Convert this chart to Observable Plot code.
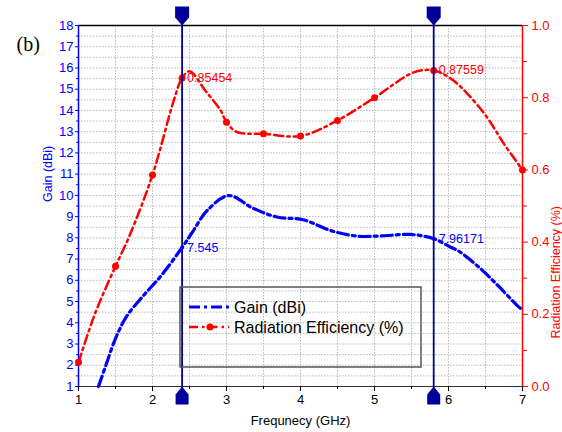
<!DOCTYPE html>
<html><head><meta charset="utf-8">
<script src="https://cdn.jsdelivr.net/npm/d3@7"></script>
<script src="https://cdn.jsdelivr.net/npm/@observablehq/plot@0.6"></script>
<style>
body{margin:0;background:#fff;}
#chart{position:relative;width:562px;height:432px;}
</style></head><body><div id="chart"></div>
<script>
// ---- data ----
const gainFreq = [1.27,1.37,1.5,1.65,1.87,2.12,2.4,2.54,2.74,3.03,3.35,3.68,4.04,4.41,4.77,5.13,5.49,5.8,6.03,6.14,6.42,6.68,6.93,7.0];
const gainDbi  = [1.0,2.0,3.26,4.3,5.25,6.23,7.545,8.27,9.29,9.99,9.41,8.98,8.85,8.34,8.08,8.10,8.16,7.96171,7.56,7.37,6.59,5.71,4.81,4.6];
const effFreq = [1,1.15,1.25,1.5,1.69,2,2.29,2.4,2.5,2.72,2.92,3,3.14,3.5,4,4.5,5,5.53,5.8,6.05,6.26,6.52,6.75,7];
const effVal  = [0.067,0.16,0.216,0.333,0.418,0.586,0.794,0.85454,0.873,0.818,0.765,0.732,0.705,0.70,0.694,0.737,0.80,0.87,0.87559,0.85,0.81,0.746,0.672,0.60];
const effMarkerFreq = [1,1.5,2,2.4,3,3.5,4,4.5,5,5.8,7];
const effMarkerVal  = [0.067,0.333,0.586,0.85454,0.732,0.70,0.694,0.737,0.80,0.87559,0.60];
const cursorFreq = [2.4, 5.8];
const gainCursorVal = [7.545, 7.96171];
const gainCursorText = ["7.545", "7.96171"];
const effCursorVal = [0.85454, 0.87559];
const effCursorText = ["0.85454", "0.87559"];
const freqTicks = [1,2,3,4,5,6,7];
const freqMinorTicks = [1.5,2.5,3.5,4.5,5.5,6.5];
const gainTicks = [1,2,3,4,5,6,7,8,9,10,11,12,13,14,15,16,17,18];
const gainMinorTicks = [1.5,2.5,3.5,4.5,5.5,6.5,7.5,8.5,9.5,10.5,11.5,12.5,13.5,14.5,15.5,16.5,17.5];
const effTicks = [0,0.2,0.4,0.6,0.8,1.0];
const effMinorTicks = [0.1,0.3,0.5,0.7,0.9];
const freqGrid = [1.5,2,2.5,3,3.5,4,4.5,5,5.5,6,6.5];
const legendLabels = ["Gain (dBi)", "Radiation Efficiency (%)"];
const xTitle = "Frequnecy (GHz)";
const yLeftTitle = "Gain (dBi)";
const yRightTitle = "Radiation Efficiency (%)";
const panelTag = "(b)";

const GMIN = 1, GMAX = 18;
const effToY = e => GMIN + (GMAX - GMIN) * e;
const yToEff = y => (y - GMIN) / (GMAX - GMIN);

const BLUE = "#0000ff", RED = "#ff0000", NAVY = "#00009c";
const FONT = "Liberation Sans, Arial, sans-serif";

const gainData = gainFreq.map((f, i) => ({f, g: gainDbi[i]}));
const effData = effFreq.map((f, i) => ({f, y: effToY(effVal[i])}));
const effMarkers = effMarkerFreq.map((f, i) => ({f, y: effToY(effMarkerVal[i])}));
const gainLbl = cursorFreq.map((f, i) => ({f, y: gainCursorVal[i], t: gainCursorText[i]}));
const effLbl = cursorFreq.map((f, i) => ({f, y: effToY(effCursorVal[i]), t: effCursorText[i]}));

const topSym = {draw(c){ c.moveTo(-7,-19); c.lineTo(7,-19); c.lineTo(7,-8); c.lineTo(0,0); c.lineTo(-7,-8); c.closePath(); }};
const botSym = {draw(c){ c.moveTo(0,0); c.lineTo(6.5,8); c.lineTo(6.5,18); c.lineTo(-6.5,18); c.lineTo(-6.5,8); c.closePath(); }};

const gridY = d3.range(1.5, 18, 0.5);

const plot = Plot.plot({
  width: 562, height: 432,
  marginLeft: 78, marginRight: 40, marginTop: 25, marginBottom: 46,
  style: {fontFamily: FONT, fontSize: "12px", background: "#fff", overflow: "visible"},
  x: {domain: [1, 7]},
  y: {domain: [GMIN, GMAX]},
  marks: [
    Plot.ruleX(freqGrid, {stroke: "#b8b8b8", strokeDasharray: "1.5,1.5"}),
    Plot.ruleY(gridY, {stroke: "#b8b8b8", strokeDasharray: "1.5,1.5"}),
    Plot.ruleY([GMAX], {stroke: "#000", strokeWidth: 1.5}),
    Plot.ruleY([GMIN], {stroke: "#333", strokeWidth: 1.2}),
    Plot.ruleX([1], {stroke: BLUE, strokeWidth: 1.5}),
    Plot.ruleX([7], {stroke: RED, strokeWidth: 1.5}),
    Plot.axisX(freqTicks, {tickSize: 5, tickPadding: 3, fontSize: 13, label: null}),
    Plot.axisX(freqMinorTicks, {tickSize: 3, tickFormat: () => "", label: null}),
    Plot.axisY(gainTicks, {anchor: "left", tickSize: 3, tickPadding: 2, color: BLUE, fontSize: 13, label: null}),
    Plot.axisY(gainMinorTicks, {anchor: "left", tickSize: 2, tickFormat: () => "", color: BLUE, label: null}),
    Plot.axisY(effTicks.map(effToY), {anchor: "right", tickSize: 5, tickPadding: 4, color: RED, fontSize: 13, tickFormat: d => yToEff(d).toFixed(1), label: null}),
    Plot.axisY(effMinorTicks.map(effToY), {anchor: "right", tickSize: 4, tickFormat: () => "", color: RED, label: null}),
    Plot.text([xTitle], {frameAnchor: "bottom", dy: 38, text: d => d, fontSize: 13, fill: "#000"}),
    Plot.text([yLeftTitle], {frameAnchor: "left", dx: -31, dy: -4, rotate: -90, text: d => d, fontSize: 12.5, fill: BLUE}),
    Plot.text([yRightTitle], {frameAnchor: "right", dx: 33, rotate: -90, text: d => d, fontSize: 12.5, fill: RED}),
    Plot.line(effData, {x: "f", y: "y", stroke: RED, strokeWidth: 2.5, strokeDasharray: "9,4,2.5,4", curve: "catmull-rom"}),
    Plot.dot(effMarkers, {x: "f", y: "y", r: 3.5, fill: RED}),
    Plot.line(gainData, {x: "f", y: "g", stroke: BLUE, strokeWidth: 3.2, strokeDasharray: "11,4,3,4", curve: "catmull-rom"}),
    Plot.ruleX(cursorFreq, {stroke: NAVY, strokeWidth: 1.8, insetTop: -18, insetBottom: -18}),
    Plot.dot(cursorFreq, {x: d => d, frameAnchor: "top", symbol: topSym, r: 5, fill: NAVY, stroke: "none"}),
    Plot.dot(cursorFreq, {x: d => d, frameAnchor: "bottom", symbol: botSym, r: 5, fill: NAVY, stroke: "none"}),
    Plot.dot(gainLbl, {x: "f", y: "y", r: 2, fill: BLUE}),
    Plot.text(effLbl, {x: "f", y: "y", text: "t", dx: 5, textAnchor: "start", fill: RED, fontSize: 12.5}),
    Plot.text(gainLbl, {x: "f", y: "y", text: "t", dx: 5, textAnchor: "start", fill: BLUE, fontSize: 12.5}),
    Plot.text([panelTag], {frameAnchor: "top-left", dx: -62, dy: 11, text: d => d, textAnchor: "start", fontFamily: "Liberation Serif, Times New Roman, serif", fontSize: 20, fill: "#000"})
  ]
});

document.getElementById("chart").appendChild(plot);

// legend drawn inside the plot area
const svg = d3.select(plot);
const lg = svg.append("g").attr("font-family", FONT).style("font-size", "16px").attr("text-anchor", "start");
lg.append("rect").attr("x", 180).attr("y", 287).attr("width", 241).attr("height", 80)
  .attr("fill", "none").attr("stroke", "#555").attr("stroke-width", 1.5);
lg.append("line").attr("x1", 189).attr("x2", 229).attr("y1", 307).attr("y2", 307)
  .attr("stroke", BLUE).attr("stroke-width", 3.2).attr("stroke-dasharray", "11,4,3,4");
lg.append("line").attr("x1", 189).attr("x2", 229).attr("y1", 327).attr("y2", 327)
  .attr("stroke", RED).attr("stroke-width", 2.5).attr("stroke-dasharray", "9,4,2.5,4");
lg.append("circle").attr("cx", 210).attr("cy", 327).attr("r", 3.5).attr("fill", RED);
lg.selectAll("text.lbl").data(legendLabels).join("text").attr("class", "lbl")
  .attr("x", 234).attr("y", (d, i) => 307 + 20 * i).attr("dy", "0.35em").attr("fill", "#000").text(d => d);
</script>
</body></html>
